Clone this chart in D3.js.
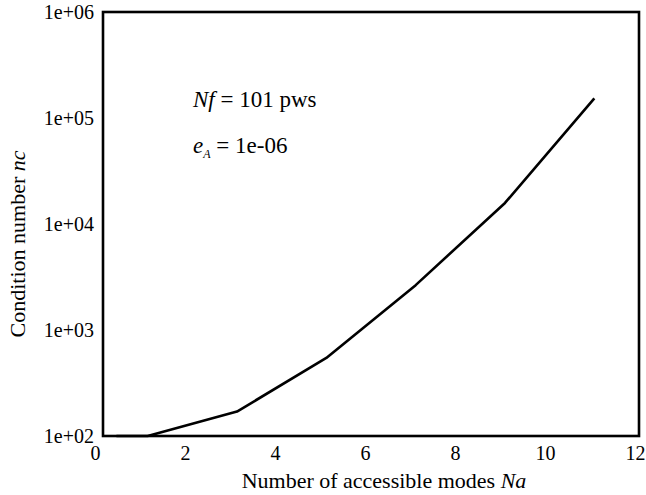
<!DOCTYPE html>
<html><head><meta charset="utf-8">
<script src="https://cdn.jsdelivr.net/npm/d3@7"></script>
<style>body{margin:0;background:#fff}svg{display:block}svg text{font-family:"Liberation Serif",serif !important;fill:#000}</style>
</head><body>
<script>
const modes = [0.3, 1, 3, 5, 7, 9, 11];
const condNumbers = [100, 100, 170, 545, 2650, 15800, 153000];
const xTicks = [0, 2, 4, 6, 8, 10, 12];
const yTicks = [1e2, 1e3, 1e4, 1e5, 1e6];
const yTickLabels = ["1e+02", "1e+03", "1e+04", "1e+05", "1e+06"];

const W = 646, H = 495;
const L = 103, R = 639, T = 12, B = 436;
const FONT = "Liberation Serif";
const svg = d3.select("body").append("svg").attr("width", W).attr("height", H)
  .attr("font-family", FONT);

const x = d3.scaleLinear().domain([0, 12]).range([L, R]);
const xLab = d3.scaleLinear().domain([0, 12]).range([95, 635]);
const y = d3.scaleLog().domain([1e2, 1e6]).range([B, T]);

// x tick labels
const gx = svg.append("g").attr("transform", `translate(0,${B})`)
  .call(d3.axisBottom(xLab).tickValues(xTicks).tickSize(0).tickPadding(10).tickFormat(d3.format("d")));
gx.attr("font-family", FONT).attr("font-size", 20);
gx.select(".domain").remove();

// y tick labels
const gy = svg.append("g").attr("transform", `translate(${L},0)`)
  .call(d3.axisLeft(y).tickValues(yTicks).tickSize(0).tickPadding(9).tickFormat((d, i) => yTickLabels[i]));
gy.attr("font-family", FONT).attr("font-size", 20);
gy.select(".domain").remove();
gy.selectAll("text").attr("dy", "0.3em");

// line
const line = d3.line().x((d, i) => x(modes[i])).y(d => y(d));
svg.append("path").datum(condNumbers).attr("d", line)
  .attr("fill", "none").attr("stroke", "#000").attr("stroke-width", 2.6).attr("stroke-linejoin", "round");

// frame
svg.append("rect").attr("x", L).attr("y", T).attr("width", R - L).attr("height", B - T)
  .attr("fill", "none").attr("stroke", "#000").attr("stroke-width", 2.6);

// axis titles
svg.append("text").attr("x", 384).attr("y", 488).attr("text-anchor", "middle").attr("font-size", 22)
  .html('Number of accessible modes <tspan font-style="italic">Na</tspan>');
svg.append("text").attr("transform", "translate(25,244) rotate(-90)").attr("text-anchor", "middle").attr("font-size", 22)
  .html('Condition number <tspan font-style="italic">nc</tspan>');

// annotations
svg.append("text").attr("x", 193).attr("y", 107).attr("font-size", 23)
  .html('<tspan font-style="italic">Nf</tspan> = 101 pws');
svg.append("text").attr("x", 193).attr("y", 153).attr("font-size", 23)
  .html('<tspan font-style="italic">e</tspan><tspan font-style="italic" font-size="12" dy="5">A</tspan><tspan dy="-5"> = 1e-06</tspan>');
</script>
</body></html>
